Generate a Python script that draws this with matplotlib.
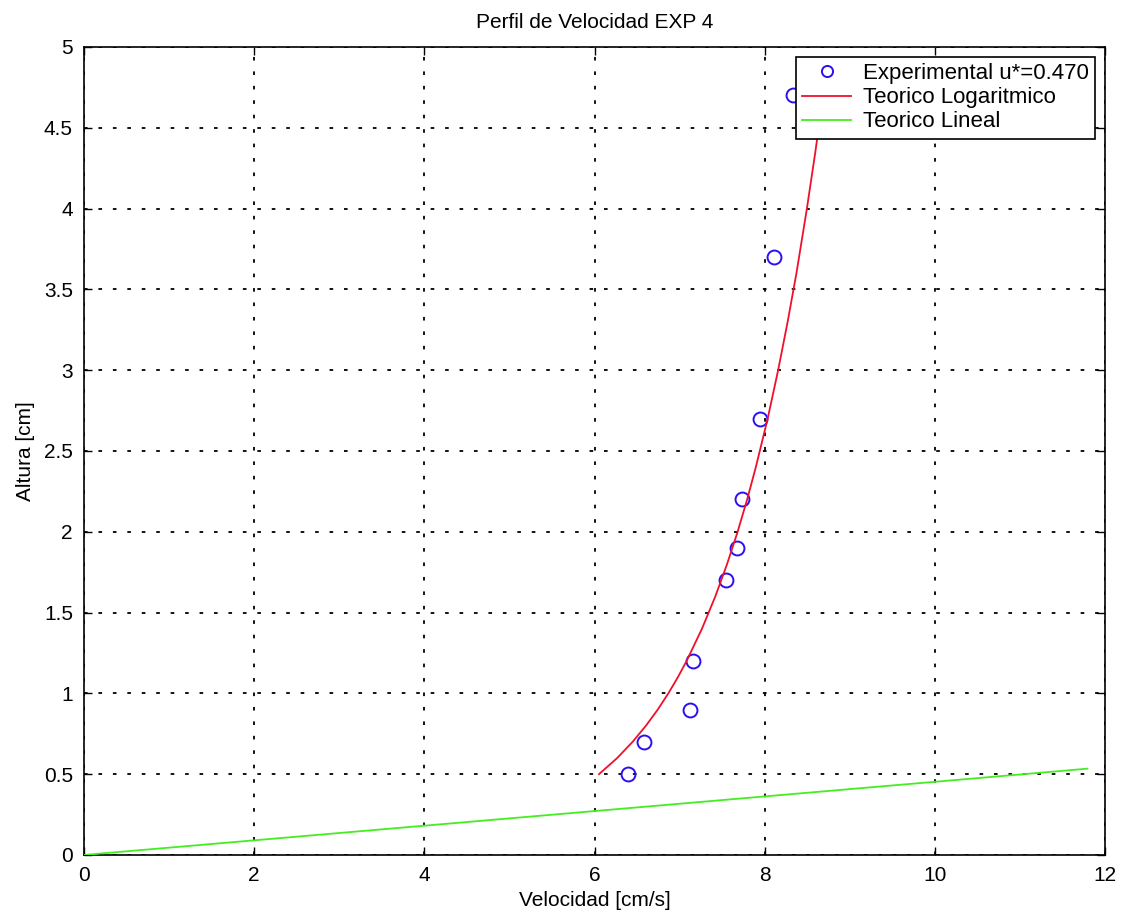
import matplotlib
matplotlib.use("Agg")
import matplotlib.pyplot as plt

plt.rcParams['font.family'] = ['Liberation Sans', 'DejaVu Sans']

# Measured velocity profile (EXP 4)
vel_exp = [6.39, 6.58, 7.12, 7.15, 7.54, 7.67, 7.73, 7.94, 8.11, 8.33]
z_exp = [0.5, 0.7, 0.9, 1.2, 1.7, 1.9, 2.2, 2.7, 3.7, 4.7]

# Theoretical log-law profile (u* = 0.470 cm/s)
z_log = [0.5, 0.6, 0.7, 0.8, 0.9, 1.0, 1.1, 1.2, 1.4, 1.6, 1.8, 2.0,
         2.2, 2.4, 2.7, 3.0, 3.3, 3.6, 4.0, 4.35, 4.7]
vel_log = [6.051, 6.265, 6.446, 6.603, 6.742, 6.866, 6.978, 7.080, 7.261,
           7.418, 7.556, 7.680, 7.792, 7.894, 8.033, 8.156, 8.268, 8.371,
           8.494, 8.593, 8.684]

# Theoretical linear (viscous sublayer) profile
vel_lin = [0.0, 11.79]
z_lin = [0.0, 0.534]

xticks = [0, 2, 4, 6, 8, 10, 12]
yticks = [0, 0.5, 1, 1.5, 2, 2.5, 3, 3.5, 4, 4.5, 5]
ytick_labels = ['0', '0.5', '1', '1.5', '2', '2.5', '3', '3.5', '4', '4.5', '5']

fig = plt.figure(figsize=(11.29, 9.21), dpi=100)
ax = fig.add_axes([0.0744, 0.0717, 0.9046, 0.8773])

ax.plot(vel_exp, z_exp, linestyle='none', marker='o', markersize=10,
        markerfacecolor='none', markeredgecolor='#2a10f0', markeredgewidth=1.4,
        label='Experimental u*=0.470', zorder=3)
ax.plot(vel_log, z_log, color='#f0102a', linewidth=1.3,
        label='Teorico Logaritmico', zorder=3)
ax.plot(vel_lin, z_lin, color='#44ee22', linewidth=1.3,
        label='Teorico Lineal', zorder=3)

ax.set_xlim(0, 12)
ax.set_ylim(0, 5)
ax.set_xticks(xticks)
ax.set_yticks(yticks)
ax.set_yticklabels(ytick_labels)
ax.tick_params(direction='in', length=6, labelsize=15, top=True, right=True,
               width=1.0, pad=8)
ax.grid(True, color='black', linestyle=(0, (2, 6)), linewidth=1.3)
for s in ax.spines.values():
    s.set_linewidth(1.2)

ax.set_title('Perfil de Velocidad EXP 4', fontsize=15, pad=14)
ax.set_xlabel('Velocidad [cm/s]', fontsize=15, labelpad=4)
ax.set_ylabel('Altura [cm]', fontsize=15, labelpad=6)

leg = ax.legend(loc='upper right', fontsize=16, frameon=True, fancybox=False,
                borderpad=0.28, labelspacing=0.14, handlelength=2.2,
                handletextpad=0.55, borderaxespad=0.45, markerscale=0.8)
leg.get_frame().set_edgecolor('black')
leg.get_frame().set_linewidth(1.2)
leg.get_frame().set_alpha(1)

fig.savefig('out.png', dpi=100)
